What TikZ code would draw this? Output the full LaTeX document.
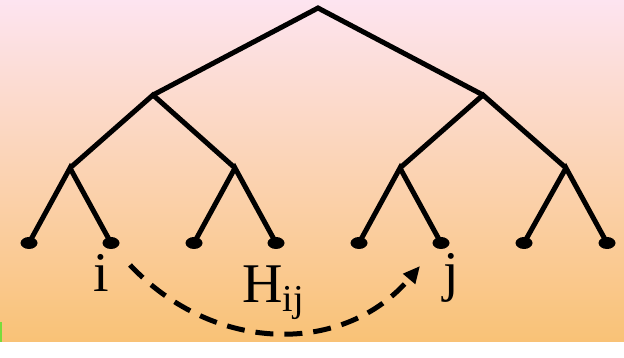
\documentclass[tikz,border=0pt]{standalone}
\usepackage{fontspec}
\setmainfont{Liberation Serif}
\usepackage{xcolor}
\usetikzlibrary{arrows.meta,shapes.geometric}
\definecolor{bgtop}{RGB}{253,228,240}
\definecolor{bgbottom}{RGB}{249,194,118}
\definecolor{edgegreen}{RGB}{120,220,60}

\begin{document}
\begin{tikzpicture}[
  x=1pt, y=-1pt,
  branch/.style={line width=5pt, line join=miter},
  leaf/.style={draw=none, fill=black, ellipse, minimum width=17pt,
    minimum height=12pt, inner sep=0pt},
  lbl/.style={inner sep=0pt, font=\fontsize{56}{60}\selectfont},
  hop/.style={line width=5pt, dash pattern=on 18pt off 11pt,
    -{Triangle[length=17pt, width=15pt]}}
]
\shade[top color=bgtop, bottom color=bgbottom] (0,0) rectangle (624,342);
\fill[edgegreen] (0,322) rectangle (2,342);
\coordinate (root) at (318,8);
\coordinate (l) at (153,95);
\coordinate (r) at (483,95);
\coordinate (ll) at (70,168);
\coordinate (lr) at (235,168);
\coordinate (rl) at (400,168);
\coordinate (rr) at (566,168);
\node[leaf] (n1) at (29,243) {};
\node[leaf] (n2) at (111,243) {};
\node[leaf] (n3) at (194,243) {};
\node[leaf] (n4) at (276,243) {};
\node[leaf] (n5) at (359,243) {};
\node[leaf] (n6) at (441,243) {};
\node[leaf] (n7) at (524,243) {};
\node[leaf] (n8) at (607,243) {};
\draw[branch] (l) -- (root) -- (r);
\draw[branch] (ll) -- (l) -- (lr);
\draw[branch] (rl) -- (r) -- (rr);
\draw[branch] (n1.center) -- (ll) -- (n2.center);
\draw[branch] (n3.center) -- (lr) -- (n4.center);
\draw[branch] (n5.center) -- (rl) -- (n6.center);
\draw[branch] (n7.center) -- (rr) -- (n8.center);
\node[lbl, anchor=base] (labi) at (101,292) {i};
\node[lbl, anchor=base] (labj) at (451,291) {j};
\node[lbl, anchor=base west] (hij) at (242,303)
  {H\raisebox{-9pt}{\fontsize{38}{40}\selectfont ij}};
\coordinate (hopstart) at (130,265);
\coordinate (hopend) at (420,266);
\draw[hop] (hopstart) .. controls (215,355) and (345,355) .. (hopend);
\end{tikzpicture}
\end{document}
